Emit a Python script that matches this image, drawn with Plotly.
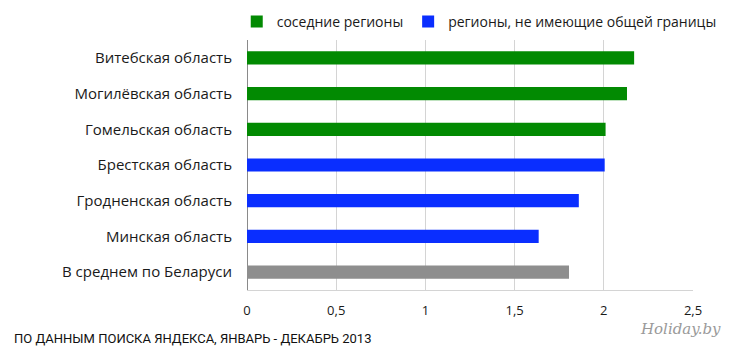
import plotly.graph_objects as go

categories = ["Витебская область", "Могилёвская область", "Гомельская область",
              "Брестская область", "Гродненская область", "Минская область",
              "В среднем по Беларуси"]

neighbor_cats = ["Витебская область", "Могилёвская область", "Гомельская область"]
neighbor_vals = [2.17, 2.13, 2.01]

far_cats = ["Брестская область", "Гродненская область", "Минская область"]
far_vals = [2.005, 1.86, 1.635]

avg_cats = ["В среднем по Беларуси"]
avg_vals = [1.805]

tick_vals = [0, 0.5, 1, 1.5, 2, 2.5]

font_main = "Open Sans, Noto Sans, sans-serif"

fig = go.Figure()
fig.add_trace(go.Bar(y=neighbor_cats, x=neighbor_vals, orientation="h",
                     name="соседние регионы", marker_color="#028A02",
                     marker_line_width=0, width=0.37))
fig.add_trace(go.Bar(y=far_cats, x=far_vals, orientation="h",
                     name="регионы, не имеющие общей границы", marker_color="#0A2EFF",
                     marker_line_width=0, width=0.37))
fig.add_trace(go.Bar(y=avg_cats, x=avg_vals, orientation="h",
                     name="В среднем", marker_color="#8E8E8E", showlegend=False,
                     marker_line_width=0, width=0.37))

fig.update_layout(
    width=735, height=363,
    margin=dict(l=239, r=50, t=32, b=81, autoexpand=False),
    paper_bgcolor="white", plot_bgcolor="white",
    barmode="overlay",
    separators=", ",
    font=dict(family=font_main, color="#1a1a1a"),
    legend=dict(orientation="h",
                x=-0.023, xanchor="left", y=1.008, yanchor="bottom",
                font=dict(size=14, family=font_main, color="#1a1a1a"),
                itemwidth=30, tracegroupgap=0),
    xaxis=dict(range=[0, 2.5], tickvals=tick_vals, showgrid=True,
               gridcolor="#d4d4d4", gridwidth=1,
               zeroline=True, zerolinecolor="#8a8a8a", zerolinewidth=1,
               showline=True, linecolor="#d4d4d4", linewidth=1,
               ticks="outside", ticklen=8, tickcolor="rgba(0,0,0,0)",
               tickfont=dict(size=13, color="#1a1a1a"), fixedrange=True),
    yaxis=dict(categoryorder="array", categoryarray=categories,
               autorange="reversed", showgrid=False,
               tickfont=dict(size=15, color="#1a1a1a"),
               ticklabelstandoff=14, fixedrange=True),
    annotations=[
        dict(text="ПО ДАННЫМ ПОИСКА ЯНДЕКСА, ЯНВАРЬ - ДЕКАБРЬ 2013",
             xref="paper", yref="paper", x=-247/446 + 12/446, y=-(338-290)/250,
             xanchor="left", yanchor="middle", showarrow=False,
             font=dict(size=13, family="Liberation Sans Narrow, Roboto, sans-serif", color="#111")),
        dict(text="<i>Holiday.by</i>",
             xref="paper", yref="paper", x=(680-247)/446, y=-(329-290)/250,
             xanchor="center", yanchor="middle", showarrow=False,
             font=dict(size=15, family="DejaVu Serif, serif", color="#9a9a9a")),
    ],
)

fig.write_html("out.html")
